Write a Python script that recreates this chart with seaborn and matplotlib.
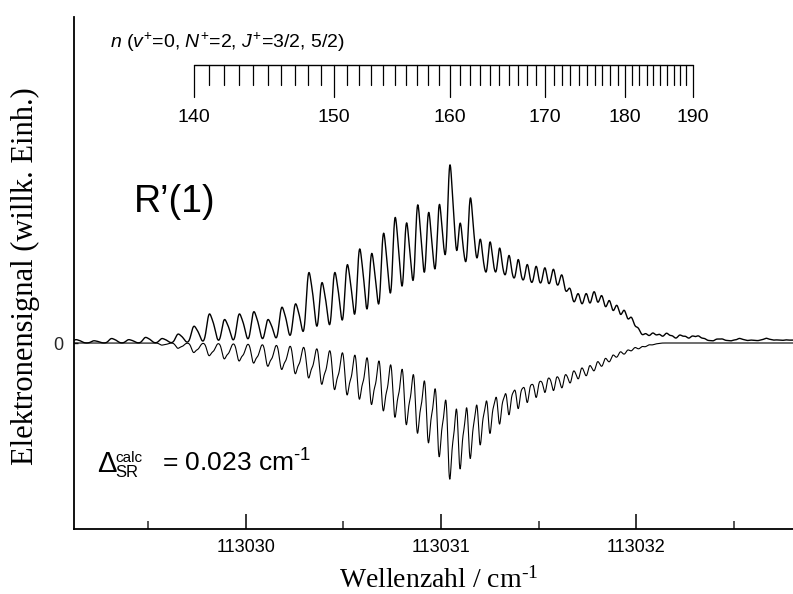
import numpy as np
import pandas as pd
import matplotlib
matplotlib.use("Agg")
import matplotlib.pyplot as plt
import seaborn as sns
from matplotlib.transforms import blended_transform_factory

sns.set_theme(style="ticks")
plt.rcParams["font.family"] = ["Liberation Sans", "DejaVu Sans"]
plt.rcParams["mathtext.fontset"] = "custom"
plt.rcParams["mathtext.rm"] = "Liberation Sans"
plt.rcParams["mathtext.it"] = "Liberation Sans:italic"
plt.rcParams["mathtext.bf"] = "Liberation Sans:bold"
plt.rcParams["mathtext.default"] = "regular"

# Rydberg series n (v+=0, N+=2) converging to the ionisation limit
RYDBERG = 109707.4          # cm^-1
SERIES_LIMIT = 113035.3288  # cm^-1
DELTA_SR = 0.023            # cm^-1, splitting of the J+=3/2 / 5/2 components
LINE_WIDTH_CALC = 0.0104    # cm^-1 (Gaussian sigma)
LINE_WIDTH_EXP = 0.0120     # cm^-1 (Gaussian sigma)
COMPONENT_RATIO = 0.6

n_levels = np.arange(133, 211)

# line intensities per principal quantum number n = 133 ... 210 (arb. units)
calc_intensity = np.array([
    0, 0, 0, 0, 0, 2, 5,                        # 133-139
    9, 12, 15, 17, 19, 22, 25, 29, 33, 39,      # 140-149
    44, 49, 53, 58, 64, 70, 77, 85, 94, 107,    # 150-159
    128, 118, 108, 95, 84, 75, 66, 60, 54, 49,  # 160-169
    44, 42, 39, 34, 30, 27, 22, 18, 14, 10,     # 170-179
    8, 5, 4, 2, 1, 0, 0, 0, 0, 0,               # 180-189
    0, 0, 0, 0, 0, 0, 0, 0, 0, 0,               # 190-199
    0, 0, 0, 0, 0, 0, 0, 0, 0, 0, 0,            # 200-210
]) / 100.0

exp_intensity = np.array([
    3, 2, 4, 3, 5, 4, 8,                          # 133-139
    15, 26, 21, 26, 28, 21, 32, 35, 63, 54,       # 140-149
    63, 70, 84, 80, 98, 112, 107, 123, 116, 123,  # 150-159
    158, 105, 128, 90, 88, 82, 75, 71, 66, 64,    # 160-169
    62, 60, 54, 41, 38, 38, 39, 34, 30, 26,       # 170-179
    22, 16, 7, 6, 7, 5, 7, 3, 6, 3,               # 180-189
    5, 4, 2, 1, 3, 2, 1, 2, 3, 1,                 # 190-199
    2, 1, 2, 3, 1, 2, 1, 2, 1, 2, 1,              # 200-210
]) / 100.0

scale_n = np.arange(140, 191)
scale_labels = [140, 150, 160, 170, 180, 190]

x_ticks_major = [113030, 113031, 113032]
x_ticks_minor = [113029.5, 113030.5, 113031.5, 113032.5]
x_range = (113029.119, 113032.86)
y_range = (-1.86, 3.26)


def n_to_wavenumber(n):
    n = np.asarray(n, dtype=float)
    return SERIES_LIMIT - RYDBERG / n ** 2


def line_spectrum(wn, intensity, sigma):
    pos = n_to_wavenumber(n_levels)
    d = wn[:, None] - pos[None, :]
    prof = (np.exp(-0.5 * (d / sigma) ** 2)
            + COMPONENT_RATIO * np.exp(-0.5 * ((d - DELTA_SR) / sigma) ** 2))
    return prof @ intensity


wn = np.linspace(x_range[0], x_range[1], 4000)
df = pd.DataFrame({
    "Wellenzahl": wn,
    "Experiment": line_spectrum(wn, exp_intensity, LINE_WIDTH_EXP),
    "Rechnung": -line_spectrum(wn, calc_intensity, LINE_WIDTH_CALC),
})

fig = plt.figure(figsize=(7.93, 5.94), dpi=100)
ax = fig.add_axes([74 / 793, 65 / 594, 730 / 793, 512 / 594])

sns.lineplot(data=df, x="Wellenzahl", y="Experiment", ax=ax, color="black",
             linewidth=1.0, estimator=None, sort=False)
sns.lineplot(data=df, x="Wellenzahl", y="Rechnung", ax=ax, color="black",
             linewidth=0.8, estimator=None, sort=False)

ax.set_xlim(*x_range)
ax.set_ylim(*y_range)
for side in ("top", "right"):
    ax.spines[side].set_visible(False)
for side in ("left", "bottom"):
    ax.spines[side].set_linewidth(1.3)
    ax.spines[side].set_color("black")

ax.set_xticks(x_ticks_major)
ax.set_xticks(x_ticks_minor, minor=True)
ax.set_xticklabels([str(t) for t in x_ticks_major])
ax.tick_params(axis="x", which="major", direction="in", length=11, width=1.1,
               labelsize=13, pad=7, colors="black")
ax.tick_params(axis="x", which="minor", direction="in", length=6, width=1.1)
ax.set_yticks([0])
ax.set_yticklabels(["0"])
ax.tick_params(axis="y", direction="in", length=3, width=1, labelsize=13, pad=8)

serif = ["Liberation Serif", "DejaVu Serif"]
ax.set_xlabel("Wellenzahl / cm$^{\\mathregular{\u2010}1}$", family=serif,
              fontsize=20, labelpad=8, color="black")
ax.set_ylabel("Elektronensignal (willk. Einh.)", family=serif, fontsize=22,
              color="black", va="center")
ax.yaxis.set_label_coords((25 - 74) / 730, (529 - 276) / 512)

# n scale of the Rydberg series
trans = blended_transform_factory(ax.transData, ax.transAxes)
y_line = (529 - 65) / 512
y_short = (529 - 85) / 512
y_long = (529 - 97) / 512
scale_x = n_to_wavenumber(scale_n)
ax.plot([scale_x[0], scale_x[-1]], [y_line, y_line], color="black", lw=1.0,
        transform=trans, clip_on=False)
for n, x in zip(scale_n, scale_x):
    y_end = y_long if n in scale_labels else y_short
    ax.plot([x, x], [y_line, y_end], color="black", lw=0.9, transform=trans,
            clip_on=False)
for n in scale_labels:
    ax.text(n_to_wavenumber(n), (529 - 117) / 512, str(n), transform=trans,
            ha="center", va="center", fontsize=14, color="black")

ax.text((110 - 74) / 730, (529 - 42) / 512,
        "$\\mathit{n}$ ($\\mathit{v}^{+}$=0, $\\mathit{N}^{+}$=2, "
        "$\\mathit{J}^{+}$=3/2, 5/2)",
        transform=ax.transAxes, ha="left", va="center", fontsize=14,
        color="black")

ax.text((134 - 74) / 730, (529 - 212) / 512, "R\u2019(1)",
        transform=ax.transAxes, ha="left", va="baseline", fontsize=27,
        color="black")

# spin-rotation splitting used for the calculated spectrum
y_base = (529 - 472) / 512
ax.text((97 - 74) / 730, y_base, "\u0394", transform=ax.transAxes,
        ha="left", va="baseline", fontsize=21, color="black")
ax.text((115 - 74) / 730, (529 - 462) / 512, "calc", transform=ax.transAxes,
        ha="left", va="baseline", fontsize=11, color="black")
ax.text((115 - 74) / 730, (529 - 477) / 512, "SR", transform=ax.transAxes,
        ha="left", va="baseline", fontsize=12, color="black")
ax.text((162 - 74) / 730, y_base,
        "= %.3f cm$^{\\mathregular{\u2010}1}$" % DELTA_SR,
        transform=ax.transAxes, ha="left", va="baseline", fontsize=19,
        color="black")

fig.savefig("out.png", dpi=100)
